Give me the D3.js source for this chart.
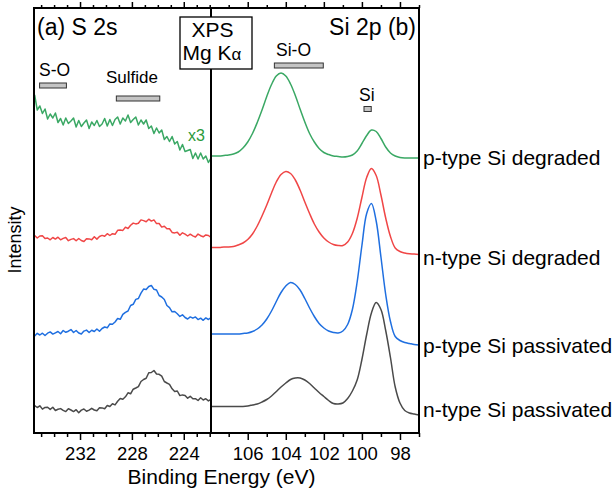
<!DOCTYPE html>
<html>
<head>
<meta charset="utf-8">
<script src="https://cdn.jsdelivr.net/npm/d3@7"></script>
<style>
body { margin: 0; background: #fff; }
svg { font-family: "Liberation Sans", Arial, sans-serif; }
.frame { fill: none; stroke: #000; stroke-width: 2; }
.axis path { display: none; }
.axis line { stroke: #000; stroke-width: 1.5; }
.axis text { font-size: 18.5px; fill: #000; font-family: "Liberation Sans", Arial, sans-serif; }
.spec { fill: none; stroke-width: 1.5; stroke-linejoin: round; }
.bar { fill: #c4c4c4; stroke: #333; stroke-width: 1; }
</style>
</head>
<body>
<div id="chart"></div>
<script>
// ---- data ----
// S 2s region (left panel), binding energy in eV
const leftEnergy = [235.5, 235.3, 235.1, 234.9, 234.7, 234.5, 234.3, 234.1, 233.9, 233.7,
    233.5, 233.3, 233.1, 232.9, 232.7, 232.5, 232.3, 232.1, 231.9, 231.7,
    231.5, 231.3, 231.1, 230.9, 230.7, 230.5, 230.3, 230.1, 229.9, 229.7,
    229.5, 229.3, 229.1, 228.9, 228.7, 228.5, 228.3, 228.1, 227.9, 227.7,
    227.5, 227.3, 227.1, 226.9, 226.7, 226.5, 226.3, 226.1, 225.9, 225.7,
    225.5, 225.3, 225.1, 224.9, 224.7, 224.5, 224.3, 224.1, 223.9, 223.7,
    223.5, 223.3, 223.1, 222.9, 222.7, 222.5, 222.3, 222.1, 221.9];

const s2sPDegraded = [67.6, 64.6, 65.4, 63.9, 64.8, 62.8, 63.8, 63.0, 64.0, 62.1,
    62.9, 61.6, 63.0, 61.9, 62.4, 63.0, 61.2, 62.5, 61.3, 62.0,
    62.6, 60.9, 62.2, 61.5, 62.5, 61.3, 61.8, 62.9, 61.4, 62.7,
    61.5, 62.7, 63.2, 61.8, 63.0, 62.4, 63.6, 62.1, 62.7, 63.2,
    61.6, 62.6, 61.8, 62.6, 60.9, 61.4, 59.9, 61.0, 60.0, 60.6,
    58.7, 59.3, 58.3, 59.3, 57.8, 58.3, 56.6, 57.7, 56.3, 56.5,
    56.7, 54.9, 56.0, 54.8, 56.0, 54.8, 55.4, 54.1, 55.0];

const s2sNDegraded = [39.5, 39.0, 39.4, 39.44, 38.88, 39.0, 38.64, 39.1, 38.78, 39.16,
    38.64, 38.92, 39.1, 38.46, 38.72, 38.88, 38.44, 38.9, 38.5, 38.3,
    38.84, 38.82, 38.64, 39.26, 38.78, 39.3, 39.52, 39.34, 39.86, 39.5,
    39.86, 39.74, 40.54, 40.58, 40.52, 41.16, 40.9, 41.54, 41.98, 41.82,
    41.94, 42.62, 42.48, 42.26, 42.76, 42.38, 42.62, 41.88, 41.9, 41.18,
    41.36, 40.84, 40.86, 40.12, 40.02, 40.16, 39.54, 40.04, 39.76, 39.4,
    39.76, 39.42, 39.2, 39.78, 39.46, 39.24, 39.62, 39.5, 39.1];

const s2sPPassivated = [19.4, 19.94, 19.6, 19.96, 19.5, 19.96, 20.22, 19.78, 20.04, 20.3,
    19.86, 20.5, 20.14, 20.36, 20.68, 20.1, 20.5, 20.0, 19.8, 20.38,
    20.58, 20.1, 20.54, 20.3, 20.8, 20.34, 20.9, 21.2, 21.04, 21.82,
    21.74, 22.2, 22.9, 22.74, 23.72, 24.14, 24.4, 25.5, 25.74, 26.72,
    26.9, 27.98, 28.78, 28.7, 29.3, 29.5, 28.74, 28.6, 27.5, 27.2,
    26.7, 25.5, 25.08, 24.24, 24.3, 23.86, 23.32, 23.64, 23.1, 22.8,
    23.22, 22.96, 23.22, 22.68, 22.96, 22.54, 23.02, 22.7, 23.1];

const s2sNPassivated = [5.46, 5.1, 5.44, 4.78, 5.12, 5.16, 4.72, 5.16, 4.5, 4.74,
    4.88, 4.52, 4.28, 4.84, 4.6, 4.28, 4.66, 4.06, 4.58, 4.8,
    4.34, 4.58, 4.94, 4.6, 4.46, 5.04, 5.02, 4.84, 5.5, 5.3,
    5.84, 5.62, 6.34, 6.9, 6.76, 7.24, 8.04, 7.84, 8.76, 9.0,
    9.28, 10.3, 10.7, 10.94, 12.04, 12.1, 12.5, 11.8, 11.74, 11.36,
    10.3, 10.0, 9.74, 8.84, 8.3, 8.4, 7.48, 7.62, 7.52, 6.96,
    7.34, 6.84, 6.86, 6.5, 7.04, 6.6, 6.86, 6.42, 6.7];

// Si 2p region (right panel)
const rightEnergy = [108, 107.75, 107.5, 107.25, 107, 106.75, 106.5, 106.25, 106, 105.75,
    105.5, 105.25, 105, 104.75, 104.5, 104.25, 104, 103.75, 103.5, 103.25,
    103, 102.75, 102.5, 102.25, 102, 101.75, 101.5, 101.25, 101, 100.75,
    100.5, 100.25, 100, 99.75, 99.5, 99.25, 99, 98.75, 98.5, 98.25,
    98, 97.75, 97.5, 97.25, 97];

const si2pPDegraded = [55.4, 55.4, 55.4, 55.5, 55.6, 55.8, 56.2, 57.0, 58.2, 59.9,
    62.1, 64.6, 67.3, 69.7, 71.4, 72.0, 71.4, 69.8, 67.5, 64.8,
    62.2, 59.9, 58.2, 56.9, 56.1, 55.7, 55.4, 55.3, 55.2, 55.3,
    55.6, 56.4, 57.9, 59.5, 60.6, 60.3, 58.9, 57.2, 56.0, 55.4,
    55.1, 55.0, 55.0, 55.0, 55.0];

const si2pNDegraded = [37.1, 37.1, 37.1, 37.2, 37.2, 37.3, 37.6, 38.0, 38.7, 39.8,
    41.4, 43.4, 45.6, 48.0, 50.2, 51.7, 52.3, 51.9, 50.6, 48.6,
    46.2, 43.9, 41.8, 40.2, 39.0, 38.2, 37.7, 37.5, 37.5, 38.2,
    39.9, 42.9, 47.1, 51.1, 52.9, 51.5, 47.6, 43.0, 39.3, 37.0,
    36.3, 36.0, 35.85, 35.8, 35.7];

const si2pPPassivated = [19.8, 19.8, 19.8, 19.8, 19.8, 19.8, 19.8, 19.9, 20.0, 20.3,
    20.8, 21.6, 22.8, 24.4, 26.3, 28.1, 29.4, 30.1, 29.7, 28.6,
    26.9, 25.0, 23.3, 21.9, 21.0, 20.4, 20.1, 20.0, 20.4, 21.7,
    24.7, 30.2, 37.5, 43.9, 45.9, 42.4, 35.2, 27.7, 22.3, 19.3,
    18.5, 18.1, 17.9, 17.7, 17.6];

const si2pNPassivated = [5.3, 5.3, 5.3, 5.3, 5.3, 5.3, 5.3, 5.3, 5.4, 5.6,
    5.8, 6.2, 6.7, 7.4, 8.3, 9.2, 10.0, 10.7, 11.0, 11.0,
    10.6, 9.9, 9.0, 8.1, 7.3, 6.5, 5.9, 5.8, 6.0, 6.9,
    8.4, 10.6, 14.7, 19.7, 24.0, 26.1, 24.7, 20.5, 15.1, 9.2,
    6.0, 4.5, 4.0, 3.8, 3.6];

const sampleNames = ["p-type Si degraded", "n-type Si degraded", "p-type Si passivated", "n-type Si passivated"];

const leftMajorTicks = [232, 228, 224];
const leftMinorTicks = [235, 234, 233, 231, 230, 229, 227, 226, 225, 223, 222];
const rightMajorTicks = [106, 104, 102, 100, 98];
const rightMinorTicks = [107, 105, 103, 101, 99, 97];

// ---- layout ----
const width = 613;
const height = 492;
const x0 = 34, xMid = 211, x1 = 419, yTop = 8, yBottom = 433;

const colors = ["#3aa864", "#f04646", "#1f6fe0", "#4a4a4a"];
const labelBaselines = [165, 265, 353, 417];

var svg = d3.select("#chart").append("svg")
    .attr("width", width).attr("height", height);

var xL = d3.scaleLinear().domain([235.55, 221.9]).range([x0, xMid]);
var xR = d3.scaleLinear().domain([107.93, 97.0]).range([xMid, x1]);
var y = d3.scaleLinear().domain([0, 85]).range([yBottom, yTop]);

var defs = svg.append("defs");
defs.append("clipPath").attr("id", "clipL").append("rect")
    .attr("x", x0).attr("y", yTop).attr("width", xMid - x0).attr("height", yBottom - yTop);
defs.append("clipPath").attr("id", "clipR").append("rect")
    .attr("x", xMid).attr("y", yTop).attr("width", x1 - xMid).attr("height", yBottom - yTop);

function draw_axis(scale, majors, minors) {
    //下方刻度
    svg.append("g").attr("class", "axis")
        .attr("transform", "translate(0," + yBottom + ")")
        .call(d3.axisBottom(scale).tickValues(majors).tickSize(7).tickPadding(7).tickFormat(d3.format("d")));
    svg.append("g").attr("class", "axis")
        .attr("transform", "translate(0," + yBottom + ")")
        .call(d3.axisBottom(scale).tickValues(minors).tickSize(4).tickFormat(""));
    //上方刻度
    svg.append("g").attr("class", "axis")
        .attr("transform", "translate(0," + yTop + ")")
        .call(d3.axisTop(scale).tickValues(majors).tickSize(6).tickFormat(""));
    svg.append("g").attr("class", "axis")
        .attr("transform", "translate(0," + yTop + ")")
        .call(d3.axisTop(scale).tickValues(minors).tickSize(3).tickFormat(""));
}

draw_axis(xL, leftMajorTicks, leftMinorTicks);
draw_axis(xR, rightMajorTicks, rightMinorTicks);

// spectra
var leftSeries = [s2sPDegraded, s2sNDegraded, s2sPPassivated, s2sNPassivated];
var rightSeries = [si2pPDegraded, si2pNDegraded, si2pPPassivated, si2pNPassivated];

var lineL = d3.line()
    .x((d, i) => xL(leftEnergy[i]))
    .y(d => y(d));

var lineR = d3.line()
    .x((d, i) => xR(rightEnergy[i]))
    .y(d => y(d))
    .curve(d3.curveCatmullRom.alpha(0.5));

svg.append("g").attr("clip-path", "url(#clipL)")
    .selectAll("path").data(leftSeries).enter().append("path")
    .attr("class", "spec")
    .attr("stroke", (d, i) => colors[i])
    .attr("d", lineL);

svg.append("g").attr("clip-path", "url(#clipR)")
    .selectAll("path").data(rightSeries).enter().append("path")
    .attr("class", "spec")
    .attr("stroke", (d, i) => colors[i])
    .attr("d", lineR);

// frame
svg.append("rect").attr("class", "frame")
    .attr("x", x0).attr("y", yTop).attr("width", x1 - x0).attr("height", yBottom - yTop);
svg.append("line").attr("class", "frame")
    .attr("x1", xMid).attr("x2", xMid).attr("y1", yTop).attr("y2", yBottom);

// peak position bars
function add_bar(scale, e1, e2, yy, label, tx, ty, fs) {
    svg.append("rect").attr("class", "bar")
        .attr("x", scale(e1)).attr("y", yy)
        .attr("width", scale(e2) - scale(e1)).attr("height", 5);
    svg.append("text").attr("x", tx).attr("y", ty)
        .attr("font-size", fs).text(label);
}

add_bar(xL, 235.12, 233.05, 83, "S-O", 39, 76, 17.5);
add_bar(xL, 229.2, 225.85, 96, "Sulfide", 106, 83, 17);
add_bar(xR, 104.6, 102.03, 63, "Si-O", 276, 56, 17.5);
add_bar(xR, 99.89, 99.51, 106.5, "Si", 359, 100.5, 17.5);

// titles
svg.append("text").attr("x", 37).attr("y", 35).attr("font-size", 23).text("(a) S 2s");
svg.append("text").attr("x", 416).attr("y", 35).attr("font-size", 23)
    .attr("text-anchor", "end").text("Si 2p (b)");

svg.append("text").attr("x", 188).attr("y", 141).attr("font-size", 16)
    .attr("fill", "#2a9a3a").text("x3");

// XPS box
svg.append("rect").attr("x", 180).attr("y", 17).attr("width", 72).attr("height", 52)
    .attr("fill", "#fff").attr("stroke", "#000").attr("stroke-width", 1.3);
svg.append("text").attr("x", 212.5).attr("y", 37).attr("font-size", 21)
    .attr("text-anchor", "middle").text("XPS");
var mg = svg.append("text").attr("x", 212).attr("y", 60).attr("font-size", 21)
    .attr("text-anchor", "middle");
mg.append("tspan").text("Mg K");
mg.append("tspan").attr("font-size", 17).text("α");

// sample labels
svg.append("g").selectAll("text").data(sampleNames).enter().append("text")
    .attr("x", 423)
    .attr("y", (d, i) => labelBaselines[i])
    .attr("font-size", 21)
    .text(d => d);

// axis titles
svg.append("text").attr("x", 221.5).attr("y", 484).attr("font-size", 21)
    .attr("text-anchor", "middle").text("Binding Energy (eV)");
svg.append("text").attr("transform", "translate(21,240) rotate(-90)")
    .attr("font-size", 18).attr("text-anchor", "middle").text("Intensity");
</script>
</body>
</html>
